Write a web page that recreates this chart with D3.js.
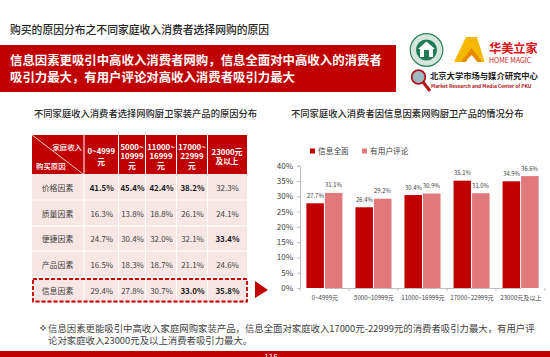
<!DOCTYPE html>
<html><head><meta charset="utf-8">
<script src="https://cdn.jsdelivr.net/npm/d3@7/dist/d3.min.js"></script>
<style>
html,body{margin:0;padding:0;background:#fff;overflow:hidden}
svg{display:block}
text{font-family:"Noto Sans CJK SC","Noto Sans",sans-serif}
</style></head><body><svg id="c" width="550" height="357"></svg>
<script>
const pageTitle = "购买的原因分布之不同家庭收入消费者选择网购的原因";
const bannerLines = ["信息因素更吸引中高收入消费者网购，信息全面对中高收入的消费者","吸引力最大，有用户评论对高收入消费者吸引力最大"];
const tableTitle = "不同家庭收入消费者选择网购厨卫家装产品的原因分布";
const chartTitle = "不同家庭收入消费者因信息因素网购厨卫产品的情况分布";
const noteLines = ["信息因素更能吸引中高收入家庭网购家装产品，信息全面对家庭收入17000元-22999元的消费者吸引力最大，有用户评","论对家庭收入23000元及以上消费者吸引力最大。"];
const pageNumber = "115";
const tableColumns = [["0~4999","元"],["5000~","10999","元"],["11000~","16999","元"],["17000~","22999","元"],["23000元","及以上"]];
const reasons = ["价格因素","质量因素","便捷因素","产品因素","信息因素"];
const priceRow = [41.5,45.4,42.4,38.2,32.3];
const qualityRow = [16.3,13.8,18.8,26.1,24.1];
const convenienceRow = [24.7,30.4,32.0,32.1,33.4];
const productRow = [16.5,18.3,18.7,21.1,24.6];
const infoRow = [29.4,27.8,30.7,33.0,35.8];
const tableRows = [priceRow,qualityRow,convenienceRow,productRow,infoRow];
const emphasised = ["0-0","0-1","0-2","0-3","2-4","4-3","4-4"];
const incomeGroups = ["0~4999元","5000~10999元","11000~16999元","17000~22999元","23000元及以上"];
const seriesNames = ["信息全面","有用户评论"];
const infoComplete = [27.7,26.4,30.4,35.1,34.9];
const usefulReviews = [31.1,29.2,30.9,31.0,36.6];
const yTicks = [0,5,10,15,20,25,30,35,40];

const RED="#c00000", PINK="#e0787c", TXT="#404040";
const svg=d3.select("#c");
const T=(p,x,y,s,size,opt={})=>p.append("text").attr("x",x).attr("y",y).attr("font-size",size)
  .attr("fill",opt.fill||"#262626").attr("font-weight",opt.w||400).attr("text-anchor",opt.a||"start")
  .attr("dominant-baseline","central").attr("font-family",opt.f||null).text(s);

T(svg,10,29,pageTitle,10.8,{w:500});
svg.append("rect").attr("x",0).attr("y",45).attr("width",396).attr("height",47).attr("fill",RED);
bannerLines.forEach((l,i)=>T(svg,10,60+i*17,l,12.4,{fill:"#fff",w:700}));
T(svg,34,113,tableTitle,9.3,{w:500});
T(svg,291,113,chartTitle,9.3,{w:500});

// table
const colEdges=[32,84.5,119,146,177,208,247];
const rowEdges=[135,174,200,226,251,277,303];
svg.append("rect").attr("x",32).attr("y",174).attr("width",215).attr("height",129).attr("fill","#f8e6e5");
const tb=svg.append("g");
colEdges.slice(0,-1).forEach((x,i)=>{
  tb.append("rect").attr("x",x).attr("y",135).attr("width",colEdges[i+1]-x-(i<5?1:0)).attr("height",39).attr("fill",RED);
});
tb.append("line").attr("x1",32).attr("y1",135).attr("x2",83).attr("y2",174).attr("stroke","#fff").attr("stroke-width",.8);
T(tb,82,146,"家庭收入",7.4,{fill:"#fff",w:500,a:"end"});
T(tb,36,165,"购买原因",7.4,{fill:"#fff",w:500});
tableColumns.forEach((c,i)=>{
  const cx=(colEdges[i+1]+colEdges[i+2])/2-.5;
  const y0=c.length===3?146:(i===0?150:151);
  const step=c.length===3?9.5:(i===0?11:9);
  c.forEach((s,k)=>T(tb,cx,y0+k*step,s,i===4&&k===1?7.6:7.8,{fill:"#fff",w:700,a:"middle"}));
});
rowEdges.slice(2,-1).forEach(y=>tb.append("line").attr("x1",32).attr("x2",247).attr("y1",y).attr("y2",y).attr("stroke","#fff").attr("stroke-width",1));
colEdges.slice(1,-1).forEach(x=>tb.append("line").attr("x1",x-.5).attr("x2",x-.5).attr("y1",174).attr("y2",303).attr("stroke","#fff").attr("stroke-width",1));
reasons.forEach((r,j)=>{
  const cy=(rowEdges[j+1]+rowEdges[j+2])/2;
  T(tb,57.5,cy,r,7.9,{fill:TXT,a:"middle"});
  tableRows[j].forEach((v,i)=>{
    const b=emphasised.includes(j+"-"+i);
    T(tb,(colEdges[i+1]+colEdges[i+2])/2,cy,v.toFixed(1)+"%",7.9,{fill:b?"#1a1a1a":TXT,w:b?700:400,a:"middle",f:"'Open Sans','Noto Sans',sans-serif"});
  });
});
svg.append("rect").attr("x",33).attr("y",279).attr("width",214).attr("height",22.5).attr("fill","none")
  .attr("stroke",RED).attr("stroke-width",1.8).attr("stroke-dasharray","4 2");
svg.append("path").attr("d",d3.line()([[255,281],[268,290],[255,298]])+"Z").attr("fill",RED);

// chart
const x0=d3.scaleBand().domain(incomeGroups).range([300,545]).paddingInner(.265).paddingOuter(.13);
const x1=d3.scaleBand().domain(seriesNames).range([0,x0.bandwidth()]);
const y=d3.scaleLinear().domain([0,40]).range([288,165.7]);
const seriesVals=[infoComplete,usefulReviews], colors=[RED,PINK];
const yAxis=svg.append("g").attr("transform","translate(300,0)")
  .call(d3.axisLeft(y).tickValues(yTicks).tickFormat(d=>d+"%").tickSize(3).tickPadding(4));
const xAxis=svg.append("g").attr("transform","translate(0,288)")
  .call(d3.axisBottom(d3.scalePoint().domain(incomeGroups).range([324.5,520.5])).tickSize(0).tickPadding(8));
xAxis.selectAll("text").attr("font-size",6.1).attr("fill",TXT).attr("font-family",null);
yAxis.selectAll("text").attr("font-size",8).attr("fill",TXT).attr("font-family","'Open Sans',sans-serif");
[yAxis,xAxis].forEach(a=>{a.selectAll(".domain,.tick line").attr("stroke","#bfbfbf")});
d3.range(6).forEach(i=>svg.append("line").attr("x1",300+i*49).attr("x2",300+i*49).attr("y1",288).attr("y2",291).attr("stroke","#bfbfbf"));
seriesNames.forEach((s,k)=>{
  const g=svg.append("g");
  g.selectAll("rect").data(incomeGroups).join("rect")
   .attr("x",d=>x0(d)+x1(s)+(k?.5:0)).attr("width",x1.bandwidth()-.5)
   .attr("y",(d,i)=>y(seriesVals[k][i])).attr("height",(d,i)=>288-y(seriesVals[k][i])).attr("fill",colors[k]);
  g.selectAll("text").data(incomeGroups).join("text")
   .attr("x",d=>x0(d)+x1(s)+x1.bandwidth()/2).attr("y",(d,i)=>y(seriesVals[k][i])-8)
   .attr("text-anchor","middle").attr("dominant-baseline","central").attr("font-size",5.9).attr("fill",TXT)
   .attr("font-family","'Open Sans',sans-serif").text((d,i)=>seriesVals[k][i].toFixed(1)+"%");
});
// legend
[[310,318],[362,370]].forEach(([sx,tx],k)=>{
  svg.append("rect").attr("x",sx).attr("y",148.5).attr("width",5).attr("height",5).attr("fill",colors[k]);
  T(svg,tx,150.7,seriesNames[k],7.7,{fill:TXT});
});

// note
T(svg,40,327.5,"❖",6,{fill:"#333",f:"'DejaVu Sans'",a:"start"});
noteLines.forEach((l,i)=>T(svg,48,328+i*12,l,9.4,{fill:TXT}));

// footer
svg.append("rect").attr("x",0).attr("y",351).attr("width",550).attr("height",6).attr("fill",RED);
T(svg,271,356.5,pageNumber,8,{fill:"#fff",a:"middle"});

// logos
const L=svg.append("g");
L.append("circle").attr("cx",426.5).attr("cy",50).attr("r",16.3).attr("fill","#d5e6dc").attr("stroke","#2f7f5c").attr("stroke-width",1.2);
L.append("circle").attr("cx",426.5).attr("cy",50).attr("r",10.5).attr("fill","#1f7a55");
L.append("path").attr("d","M426.5 41.5L435 49H433V57H420V49H418Z").attr("fill","#fff");
L.append("path").attr("d","M424 50h5v7h-5z").attr("fill","#1f7a55");
L.append("path").attr("d","M454 62L466 37H477L484.5 62H477L471.5 52L466 62Z").attr("fill","#f5b800");
L.append("path").attr("d","M461 62L471.5 48L482 62H478L471.5 55L465 62Z").attr("fill","#e88a00");
T(L,489,47.5,"华美立家",12.2,{fill:"#d7141a",w:700});
T(L,489,59.5,"HOME MAGIC",6.9,{fill:"#d7141a",w:400,f:"'Liberation Sans',sans-serif"});
L.append("circle").attr("cx",418.5).attr("cy",77).attr("r",6.8).attr("fill","#9fb9c2").attr("stroke","#b3141a").attr("stroke-width",1.8);
L.append("line").attr("x1",423).attr("y1",82).attr("x2",430).attr("y2",91).attr("stroke","#b3141a").attr("stroke-width",3);
T(L,430,75,"北京大学市场与媒介研究中心",8.3,{fill:"#222",w:700});
T(L,431,85,"Market Research and Media Center of PKU",4.9,{fill:"#b3141a",w:700,f:"'Liberation Serif',serif"});
</script></body></html>
